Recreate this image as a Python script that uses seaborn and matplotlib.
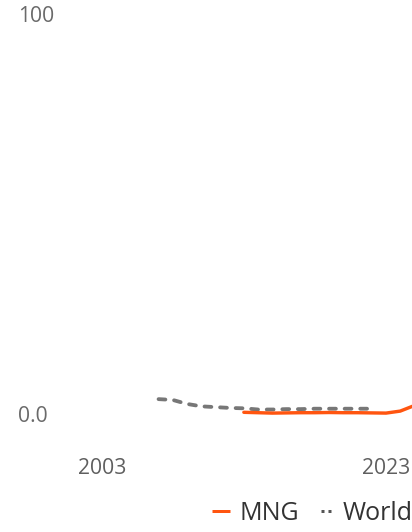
import matplotlib
matplotlib.use("Agg")
import matplotlib.pyplot as plt
import seaborn as sns
import pandas as pd
from matplotlib.lines import Line2D

# ---- data ----
world_years = list(range(2007, 2023))
world_values = [3.6, 3.4, 2.4, 1.8, 1.6, 1.4, 1.3, 1.0, 1.0, 1.1, 1.1, 1.2, 1.2, 1.2, 1.2, 1.2]
mng_years = list(range(2013, 2026))
mng_values = [0.3, 0.2, 0.1, 0.15, 0.2, 0.2, 0.25, 0.2, 0.2, 0.15, 0.1, 0.6, 2.0]
x_ticks = [2003, 2023]
x_tick_labels = ["2003", "2023"]
y_ticks = [0, 100]
y_tick_labels = ["0.0", "100"]
series_names = ["MNG", "World"]

ORANGE = "#FF5510"
GRAY = "#777777"

sns.set_style("white")
plt.rcParams["font.family"] = ["Open Sans", "DejaVu Sans"]

W, H = 412, 532
fig = plt.figure(figsize=(W / 100, H / 100), dpi=100)

# axes placement in pixels
ax_left, ax_right = 70, 412
ax_top, ax_bottom = 5, 425
ax = fig.add_axes([ax_left / W, 1 - ax_bottom / H, (ax_right - ax_left) / W, (ax_bottom - ax_top) / H])

world_df = pd.DataFrame({"year": world_years, "value": world_values})
mng_df = pd.DataFrame({"year": mng_years, "value": mng_values})

lw_world = 3.8 * 72 / 100
sns.lineplot(data=world_df, x="year", y="value", ax=ax, color=GRAY, linewidth=lw_world,
             linestyle=(0, (1.8, 2.3)), dash_capstyle="round")
sns.lineplot(data=mng_df, x="year", y="value", ax=ax, color=ORANGE, linewidth=3.4 * 72 / 100,
             solid_capstyle="round")

# scales: 2003 at px 101.7, 2023 at px 386; 0 at py 413.5, 100 at py 14.5
pxy = (386 - 101.7) / 20
x0 = 2003 - (101.7 - ax_left) / pxy
x1 = 2003 + (ax_right - 101.7) / pxy
ax.set_xlim(x0, x1)
pyu = (413.5 - 14.5) / 100
ax.set_ylim(0 - (ax_bottom - 413.5) / pyu, 100 + (14.5 - ax_top) / pyu)

ax.set_xticks(x_ticks)
ax.set_xticklabels(x_tick_labels)
ax.set_yticks(y_ticks)
ax.set_yticklabels(y_tick_labels)
ax.set_xlabel("")
ax.set_ylabel("")
for s in ax.spines.values():
    s.set_visible(False)
ax.grid(False)

ax.tick_params(axis="x", length=0, labelsize=15.2, labelcolor="#5f5f5f", pad=(458 - ax_bottom) * 0.72)
ax.tick_params(axis="y", length=0, labelsize=15.2, labelcolor="#6a6a6a", pad=(ax_left - 18) * 0.72)
for lab in ax.get_yticklabels():
    lab.set_horizontalalignment("left")

handles = [
    Line2D([], [], color=ORANGE, linewidth=3.0 * 72 / 100, solid_capstyle="butt"),
    Line2D([], [], color="#555555", linewidth=3.0 * 72 / 100, linestyle=(4.33, (1, 1.33, 1, 3))),
]
leg = fig.legend(handles, series_names, loc="center left",
                 bbox_to_anchor=(212 / W, 1 - 513 / H), ncol=2, frameon=False,
                 borderpad=0, borderaxespad=0, handlelength=0.7, handletextpad=0.4,
                 columnspacing=0.65, fontsize=18)
for t in leg.get_texts():
    t.set_color("#333333")

fig.savefig("out.png", dpi=100)
